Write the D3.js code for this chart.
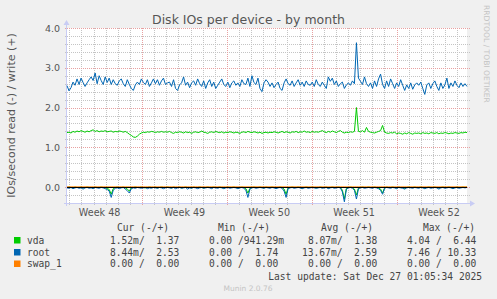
<!DOCTYPE html>
<html><head><meta charset="utf-8">
<script src="https://cdn.jsdelivr.net/npm/d3@7"></script>
<style>
html,body{margin:0;padding:0;background:#f0f0f0;}
svg{display:block;}
text{font-family:"DejaVu Sans",sans-serif;}
.mono{font-family:"DejaVu Sans Mono",monospace;white-space:pre;}
</style></head><body>
<svg id="c" width="497" height="299"></svg>
<script>
// ---------------- data ----------------
const title = "Disk IOs per device - by month";
const yLabel = "IOs/second read (-) / write (+)";
const periodStart = "2025-11-23T19:27:00Z";
const periodDays = 33;
const yTicks = [0, 1, 2, 3, 4];

const rootWrite = [
 2.55,2.42,2.5,2.64,2.56,2.72,2.58,2.74,2.63,2.53,2.62,2.7,2.77,2.68,2.87,2.6,2.8,2.68,2.58,2.77,2.63,2.74,2.58,2.7,2.6,
 2.56,2.67,2.72,2.6,2.53,2.7,2.58,2.48,2.43,2.57,2.64,2.58,2.72,2.63,2.58,2.7,2.53,2.62,2.72,2.6,2.7,2.56,2.67,2.74,2.58,
 2.62,2.64,2.53,2.7,2.48,2.43,2.57,2.62,2.77,2.56,2.64,2.5,2.62,2.67,2.56,2.72,2.6,2.53,2.67,2.48,2.62,2.7,2.53,2.64,2.48,
 2.56,2.64,2.72,2.58,2.53,2.64,2.5,2.62,2.67,2.56,2.62,2.53,2.7,2.6,2.58,2.74,2.53,2.8,2.63,2.58,2.74,2.48,2.4,2.62,2.7,
 2.64,2.53,2.62,2.5,2.58,2.64,2.48,2.43,2.62,2.72,2.6,2.56,2.67,2.53,2.62,2.7,2.56,2.64,2.53,2.67,2.58,2.56,2.64,2.53,2.7,
 2.58,2.53,2.64,2.56,2.48,2.77,2.66,2.74,2.58,2.67,2.53,2.6,2.64,2.48,2.57,2.62,2.56,2.67,2.6,3.63,2.74,2.66,2.58,2.77,2.6,
 2.53,2.62,2.48,2.67,2.53,2.72,2.84,2.58,2.48,2.67,2.53,2.72,2.6,2.48,2.62,2.53,2.7,2.56,2.43,2.57,2.48,2.62,2.46,2.57,2.62,
 2.56,2.64,2.48,2.33,2.57,2.62,2.48,2.6,2.67,2.53,2.43,2.62,2.48,2.57,2.74,2.48,2.62,2.53,2.67,2.56,2.5,2.62,2.53,2.6,2.53];

const vdaWrite = [
 1.37,1.38,1.36,1.4,1.38,1.41,1.39,1.42,1.4,1.38,1.41,1.39,1.42,1.44,1.4,1.42,1.39,1.41,1.4,1.42,1.39,1.4,1.41,1.38,1.4,
 1.39,1.41,1.4,1.38,1.4,1.37,1.33,1.3,1.26,1.25,1.28,1.33,1.36,1.38,1.37,1.39,1.38,1.4,1.39,1.37,1.39,1.38,1.4,1.38,1.39,
 1.38,1.4,1.37,1.35,1.38,1.37,1.39,1.38,1.36,1.39,1.37,1.38,1.35,1.38,1.39,1.37,1.38,1.41,1.38,1.37,1.35,1.38,1.39,1.37,1.4,
 1.38,1.37,1.39,1.36,1.38,1.37,1.39,1.38,1.36,1.38,1.37,1.35,1.38,1.39,1.37,1.4,1.38,1.37,1.39,1.38,1.36,1.38,1.35,1.37,1.38,
 1.36,1.38,1.37,1.39,1.38,1.36,1.38,1.4,1.37,1.39,1.38,1.36,1.39,1.38,1.4,1.37,1.39,1.38,1.41,1.38,1.39,1.37,1.4,1.38,1.39,
 1.38,1.4,1.42,1.39,1.37,1.4,1.38,1.41,1.39,1.37,1.4,1.42,1.38,1.36,1.38,1.37,1.39,1.38,1.4,2.0,1.4,1.39,1.42,1.38,1.5,
 1.4,1.38,1.37,1.36,1.38,1.4,1.42,1.55,1.38,1.36,1.35,1.37,1.36,1.38,1.34,1.36,1.35,1.33,1.36,1.34,1.37,1.35,1.33,1.36,1.35,
 1.36,1.34,1.37,1.35,1.36,1.34,1.37,1.36,1.35,1.37,1.34,1.36,1.35,1.37,1.36,1.34,1.36,1.35,1.37,1.36,1.35,1.37,1.36,1.38,1.37];

const rootRead = [
 0.02,0.03,0.01,0.04,0.02,0.01,0.03,0.02,0.05,0.02,0.01,0.03,0.02,0.04,0.01,0.02,0.03,0.01,0.02,0.04,0.06,0.1,0.26,0.08,0.03,
 0.02,0.04,0.02,0.01,0.05,0.09,0.15,0.04,0.02,0.03,0.01,0.02,0.03,0.02,0.01,0.04,0.02,0.03,0.01,0.02,0.03,0.01,0.02,0.04,0.02,
 0.01,0.02,0.03,0.01,0.04,0.02,0.01,0.03,0.02,0.01,0.05,0.02,0.03,0.01,0.02,0.04,0.02,0.01,0.03,0.02,0.01,0.02,0.04,0.01,0.02,
 0.03,0.01,0.02,0.04,0.02,0.01,0.03,0.02,0.01,0.02,0.04,0.02,0.01,0.03,0.08,0.26,0.05,0.02,0.01,0.03,0.02,0.01,0.02,0.03,0.01,
 0.02,0.03,0.01,0.02,0.04,0.02,0.01,0.03,0.1,0.26,0.04,0.02,0.01,0.03,0.02,0.01,0.02,0.04,0.02,0.01,0.03,0.02,0.01,0.02,0.03,
 0.02,0.01,0.03,0.02,0.01,0.04,0.02,0.01,0.03,0.02,0.01,0.02,0.12,0.37,0.05,0.02,0.01,0.03,0.08,0.3,0.04,0.02,0.01,0.03,0.02,
 0.01,0.02,0.03,0.01,0.02,0.04,0.08,0.18,0.03,0.01,0.02,0.03,0.01,0.02,0.04,0.01,0.02,0.03,0.05,0.02,0.01,0.02,0.03,0.01,0.02,
 0.03,0.01,0.02,0.04,0.02,0.01,0.03,0.02,0.01,0.02,0.05,0.02,0.01,0.03,0.02,0.01,0.02,0.04,0.02,0.01,0.03,0.02,0.01,0.02,0.01];

const vdaRead = [
 0.01,0.0,0.01,0.02,0.0,0.01,0.01,0.0,0.02,0.01,0.0,0.01,0.01,0.02,0.0,0.01,0.01,0.0,0.01,0.02,0.03,0.06,0.18,0.04,0.01,
 0.0,0.01,0.01,0.0,0.02,0.05,0.1,0.02,0.01,0.0,0.01,0.01,0.0,0.01,0.02,0.01,0.0,0.01,0.01,0.0,0.02,0.01,0.0,0.01,0.01,
 0.0,0.01,0.02,0.0,0.01,0.01,0.0,0.02,0.01,0.0,0.01,0.01,0.02,0.0,0.01,0.01,0.0,0.01,0.02,0.01,0.0,0.01,0.01,0.0,0.01,
 0.01,0.0,0.01,0.02,0.01,0.0,0.01,0.01,0.0,0.01,0.02,0.01,0.0,0.01,0.04,0.15,0.03,0.01,0.0,0.01,0.01,0.0,0.01,0.02,0.0,
 0.01,0.01,0.0,0.01,0.02,0.01,0.0,0.01,0.05,0.18,0.02,0.01,0.0,0.01,0.01,0.0,0.01,0.02,0.01,0.0,0.01,0.01,0.0,0.01,0.02,
 0.01,0.0,0.01,0.01,0.0,0.02,0.01,0.0,0.01,0.01,0.0,0.01,0.08,0.3,0.03,0.01,0.0,0.01,0.05,0.2,0.02,0.01,0.0,0.01,0.01,
 0.0,0.01,0.01,0.0,0.01,0.02,0.05,0.15,0.02,0.0,0.01,0.01,0.0,0.01,0.02,0.0,0.01,0.01,0.03,0.01,0.0,0.01,0.01,0.0,0.01,
 0.01,0.0,0.01,0.02,0.01,0.0,0.01,0.01,0.0,0.01,0.02,0.01,0.0,0.01,0.01,0.0,0.01,0.02,0.01,0.0,0.01,0.01,0.0,0.01,0.0];

const swapWrite = new Array(200).fill(0);
const swapRead = new Array(200).fill(0);

const legendHeaders = ["Cur (-/+)", "Min (-/+)", "Avg (-/+)", "Max (-/+)"];
const legendNames = ["vda", "root", "swap_1"];
const legendColors = ["#00cc00", "#0066b3", "#ff8000"];
const legendValues = [
  ["1.52m/  1.37", "0.00 /941.29m", "8.07m/  1.38", "4.04 /  6.44"],
  ["8.44m/  2.53", "0.00 /  1.74", "13.67m/  2.59", "7.46 / 10.33"],
  ["0.00 /  0.00", "0.00 /  0.00", "0.00 /  0.00", "0.00 /  0.00"]];
const lastUpdate = "Last update: Sat Dec 27 01:05:34 2025";
const footer = "Munin 2.0.76";
const sideText = "RRDTOOL / TOBI OETIKER";

// ---------------- drawing ----------------
const svg = d3.select("#c");
const L = 67, R = 467, T = 28, B = 203;
const t0 = new Date(periodStart);
const t1 = new Date(+t0 + periodDays * 864e5);
const x = d3.scaleUtc().domain([t0, t1]).range([L, R]);
const y = d3.scaleLinear().domain([-0.4, 4.0]).range([B, T]);
const n = rootWrite.length;
const times = d3.range(n).map(i => new Date(+t0 + i * (t1 - t0) / (n - 1)));
const px = v => Math.round(v);

svg.append("rect").attr("x", L).attr("y", T).attr("width", R - L).attr("height", B - T).attr("fill", "#ffffff");

// grids drawn as 1px dotted marks (1 on, 1 off)
function vDots(g, xs, col) {
  xs.forEach(xv => {
    for (let yy = T; yy <= B + 2; yy += 2)
      g.append("rect").attr("x", px(xv)).attr("y", yy).attr("width", 1).attr("height", 1).attr("fill", col);
  });
}
function hDots(g, ys, col) {
  ys.forEach(yv => {
    for (let xx = L - 2; xx <= R + 2; xx += 2)
      g.append("rect").attr("x", xx).attr("y", px(yv)).attr("width", 1).attr("height", 1).attr("fill", col);
  });
}
const minorCol = "#c4c4c4", majorCol = "#e8a0a0";
const days = d3.utcDay.range(t0, t1).filter(d => +d3.utcSunday.floor(d) !== +d);
const weeks = d3.utcSunday.range(t0, t1);
const yMinor = y.ticks(22).filter(v => Math.abs(v - Math.round(v)) > 1e-6 && v > -0.39);
const grid = svg.append("g").attr("shape-rendering", "crispEdges");
vDots(grid, days.map(d => x(d)), minorCol);
hDots(grid, yMinor.map(v => y(v)), minorCol);
vDots(grid, weeks.map(d => x(d)), majorCol);
hDots(grid, yTicks.map(v => y(v)), majorCol);

// axes
const axisCol = "#c8ccf4";
svg.append("line").attr("x1", L - 0.5).attr("x2", L - 0.5).attr("y1", B + 3).attr("y2", T - 4).attr("stroke", axisCol);
svg.append("path").attr("d", `M${L - 3.5},${T - 3} L${L - 0.5},${T - 8} L${L + 2.5},${T - 3} Z`).attr("fill", axisCol);
svg.append("line").attr("x1", L - 3).attr("x2", R + 4).attr("y1", B + 0.5).attr("y2", B + 0.5).attr("stroke", axisCol);
svg.append("path").attr("d", `M${R + 3},${B - 2.5} L${R + 8},${B + 0.5} L${R + 3},${B + 3.5} Z`).attr("fill", axisCol);

// y tick labels
svg.append("g").selectAll("text").data(yTicks).join("text")
  .attr("x", 60).attr("y", d => y(d) + 3.5).attr("text-anchor", "end")
  .attr("font-size", 9.5).attr("fill", "#555").text(d3.format(".1f"));

// x labels
const labelDates = weeks.map(w => d3.utcHour.offset(d3.utcDay.offset(w, -4), 12));
labelDates.push(d3.utcDay.offset(labelDates[labelDates.length - 1], 7));
svg.append("g").selectAll("text").data(labelDates).join("text")
  .attr("x", d => x(d)).attr("y", 216).attr("text-anchor", "middle")
  .attr("font-size", 9.6).attr("fill", "#555").text(d3.utcFormat("Week %V"));

// series
const line = d3.line().x((d, i) => x(times[i])).y(d => y(d));
const negLine = d3.line().x((d, i) => x(times[i])).y(d => y(-d));
const plot = svg.append("g").attr("fill", "none").attr("stroke-width", 1);
plot.append("path").datum(vdaRead).attr("d", negLine).attr("stroke", legendColors[0]);
plot.append("path").datum(vdaWrite).attr("d", line).attr("stroke", legendColors[0]);
plot.append("path").datum(rootRead).attr("d", negLine).attr("stroke", legendColors[1]);
plot.append("path").datum(rootWrite).attr("d", line).attr("stroke", legendColors[1]);
plot.append("path").datum(swapRead).attr("d", negLine).attr("stroke", legendColors[2]);
plot.append("path").datum(swapWrite).attr("d", line).attr("stroke", legendColors[2]);

// zero line
svg.append("rect").attr("x", L).attr("y", px(y(0))).attr("width", R - L).attr("height", 1).attr("fill", "#000");

// title
svg.append("text").attr("x", 248.5).attr("y", 23.5).attr("text-anchor", "middle")
  .attr("font-size", 12.5).attr("fill", "#555").text(title);

// y label
svg.append("text").attr("transform", `translate(15,${(T + B) / 2}) rotate(-90)`)
  .attr("text-anchor", "middle").attr("font-size", 11).attr("fill", "#555").text(yLabel);

// side text
svg.append("text").attr("transform", `translate(484,5) rotate(90)`)
  .attr("font-size", 7.6).attr("fill", "#c4c4c4").text(sideText);

// legend
const headerX = [117, 218, 321, 423];
const valX = [[110, 209, 308, 407], [110, 209, 302, 407], [110, 209, 308, 407]];
const rowY = [243.5, 255.5, 267];
const lg = svg.append("g").attr("font-size", 9.6).attr("fill", "#444");
lg.selectAll("text.h").data(legendHeaders).join("text").attr("class", "mono")
  .attr("x", (d, i) => headerX[i]).attr("y", 231).text(d => d);
legendNames.forEach((name, r) => {
  lg.append("rect").attr("x", 14).attr("y", rowY[r] - 6.5).attr("width", 6.5).attr("height", 6.5).attr("fill", legendColors[r]);
  lg.append("text").attr("class", "mono").attr("x", 27).attr("y", rowY[r]).text(name);
  legendValues[r].forEach((v, c) => {
    lg.append("text").attr("class", "mono").attr("x", valX[r][c]).attr("y", rowY[r]).text(v);
  });
});
lg.append("text").attr("class", "mono").attr("x", 482).attr("y", 279.5).attr("text-anchor", "end").text(lastUpdate);
svg.append("text").attr("x", 248).attr("y", 291).attr("text-anchor", "middle")
  .attr("font-size", 7.5).attr("fill", "#c4c4c4").text(footer);
</script>
</body></html>
